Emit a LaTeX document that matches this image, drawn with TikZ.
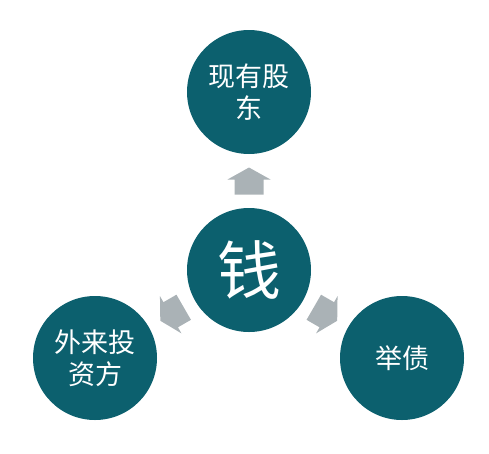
\documentclass[tikz,border=0pt]{standalone}
\usepackage{fontspec}
\newfontfamily\cjk{Noto Sans CJK SC}
\usetikzlibrary{calc}
\definecolor{tealdark}{RGB}{12,96,110}
\definecolor{arrowgray}{RGB}{170,178,182}
\tikzset{
  bubble/.style={circle, fill=tealdark, minimum size=124pt, inner sep=0pt,
    text=white, align=center, font=\cjk\fontsize{27}{32}\selectfont},
  bigbubble/.style={bubble, font=\cjk\fontsize{64}{70}\selectfont},
  blockarrow/.style={fill=arrowgray}
}
\begin{document}
\begin{tikzpicture}[x=1pt,y=-1pt]
\useasboundingbox (0,0) rectangle (489,453);
\node[bigbubble] (center) at (249,270) {钱};
\node[bubble] (top) at (249,92) {现有股\\东};
\node[bubble] (left) at (95,358) {外来投\\资方};
\node[bubble] (right) at (402,358) {举债};
\foreach \target/\ang in {top/90, left/210, right/330}{
  \fill[blockarrow, shift={($(center)!0.5!(\target)$)}, rotate=\ang]
    (-13.5,-14.5) -- (1.5,-14.5) -- (1.5,-21.5) -- (13.5,0)
    -- (1.5,21.5) -- (1.5,14.5) -- (-13.5,14.5) -- cycle;
}
\end{tikzpicture}
\end{document}
